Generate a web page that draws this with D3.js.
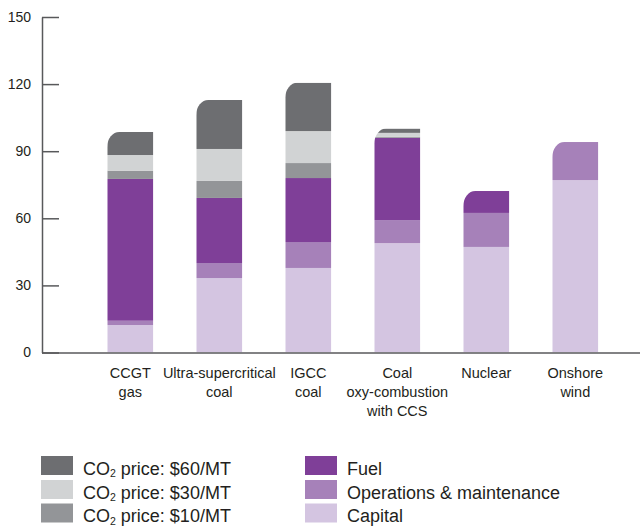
<!DOCTYPE html>
<html>
<head>
<meta charset="utf-8">
<script src="https://cdn.jsdelivr.net/npm/d3@7"></script>
<style>
  html, body { margin: 0; padding: 0; background: #fff; }
  svg { display: block; }
  .tick text { font-family: "Liberation Sans", Arial, Helvetica, sans-serif; font-size: 14px; fill: #231f20; }
  .cat, .leg { font-family: "Liberation Sans", Arial, Helvetica, sans-serif; fill: #231f20; }
</style>
</head>
<body>
<svg id="chart" width="640" height="526"></svg>
<script>
// Levelized cost components per technology (stacked bottom to top)
const categories = ["CCGT gas", "Ultra-supercritical coal", "IGCC coal", "Coal oxy-combustion with CCS", "Nuclear", "Onshore wind"];
const categoryLines = [["CCGT", "gas"], ["Ultra-supercritical", "coal"], ["IGCC", "coal"], ["Coal", "oxy-combustion", "with CCS"], ["Nuclear"], ["Onshore", "wind"]];

const capital = [12.3, 33.3, 37.8, 48.9, 47.2, 77.1];
const operations = [1.9, 6.7, 11.6, 10.3, 15.2, 17.0];
const fuel = [63.4, 29.1, 28.6, 36.8, 9.8, 0];
const co2at10 = [3.7, 7.6, 6.7, 0.4, 0, 0];
const co2at30 = [7.0, 14.3, 14.3, 1.8, 0, 0];
const co2at60 = [10.3, 21.9, 21.6, 1.9, 0, 0];

const yTicks = [0, 30, 60, 90, 120, 150];

const seriesKeys = ["capital", "om", "fuel", "co2_10", "co2_30", "co2_60"];
const seriesValues = [capital, operations, fuel, co2at10, co2at30, co2at60];
const seriesColors = ["#d4c5e1", "#a681b9", "#7f3f98", "#939598", "#d1d3d4", "#6d6e71"];

const rows = categories.map((c, i) => {
  const r = { category: c };
  seriesKeys.forEach((k, j) => { r[k] = seriesValues[j][i]; });
  return r;
});

const svg = d3.select("#chart");

const x = d3.scaleBand().domain(categories).range([85.8, 619.8]).paddingInner(0.483).paddingOuter(0.2415);
const y = d3.scaleLinear().domain([0, 150]).range([352.5, 17]);

const stacked = d3.stack().keys(seriesKeys)(rows);

// rounded top-left corner outline for each bar
const rx = 12, ry = 15;
const defs = svg.append("defs");
rows.forEach((r, i) => {
  const total = d3.sum(seriesKeys, k => r[k]);
  const x0 = x(r.category), x1 = x0 + x.bandwidth();
  const yt = y(total), yb = y(0);
  defs.append("clipPath").attr("id", "bar" + i)
    .append("path")
    .attr("d", `M${x0},${yb} L${x0},${yt + ry} A${rx},${ry} 0 0 1 ${x0 + rx},${yt} L${x1},${yt} L${x1},${yb} Z`);
});

const barsG = svg.append("g");
rows.forEach((r, i) => {
  const g = barsG.append("g").attr("clip-path", `url(#bar${i})`);
  stacked.forEach((s, j) => {
    const d = s[i];
    if (d[1] - d[0] <= 0) return;
    g.append("rect")
      .attr("x", x(r.category))
      .attr("width", x.bandwidth())
      .attr("y", y(d[1]))
      .attr("height", y(d[0]) - y(d[1]))
      .attr("fill", seriesColors[j]);
  });
});

// y axis with inward ticks
const yAxis = d3.axisLeft(y).tickValues(yTicks).tickSizeInner(-17).tickSizeOuter(0).tickPadding(11);
const ag = svg.append("g").attr("transform", "translate(42,0)").call(yAxis);
ag.attr("font-family", null).attr("font-size", null);
ag.selectAll("path, line").attr("stroke", "#58595b").attr("stroke-width", 1.5);

// baseline
svg.append("line")
  .attr("x1", 42).attr("x2", 640)
  .attr("y1", y(0) + 0.5).attr("y2", y(0) + 0.5)
  .attr("stroke", "#58595b").attr("stroke-width", 1.5);

// category labels
rows.forEach((r, i) => {
  const cx = x(r.category) + x.bandwidth() / 2;
  const t = svg.append("text").attr("class", "cat")
    .attr("text-anchor", "middle")
    .attr("font-size", 14.5)
    .attr("x", cx)
    .attr("y", 378);
  categoryLines[i].forEach((line, k) => {
    t.append("tspan").attr("x", cx).attr("dy", k === 0 ? 0 : 19).text(line);
  });
});

// legend
const legendItems = [
  { label: ["CO", "2", " price: $60/MT"], color: seriesColors[5], col: 0, row: 0 },
  { label: ["CO", "2", " price: $30/MT"], color: seriesColors[4], col: 0, row: 1 },
  { label: ["CO", "2", " price: $10/MT"], color: seriesColors[3], col: 0, row: 2 },
  { label: ["Fuel"], color: seriesColors[2], col: 1, row: 0 },
  { label: ["Operations & maintenance"], color: seriesColors[1], col: 1, row: 1 },
  { label: ["Capital"], color: seriesColors[0], col: 1, row: 2 }
];
const colX = [41, 305];
const rowY = [456, 480, 503.5];
legendItems.forEach(it => {
  const lx = colX[it.col], ly = rowY[it.row];
  svg.append("rect").attr("x", lx).attr("y", ly).attr("width", 32).attr("height", 19).attr("fill", it.color);
  const t = svg.append("text").attr("class", "leg")
    .attr("x", lx + 42).attr("y", ly + 18.5)
    .attr("font-size", 18);
  if (it.label.length === 3) {
    t.append("tspan").text(it.label[0]);
    t.append("tspan").attr("font-size", 10.5).attr("dy", 2.5).text(it.label[1]);
    t.append("tspan").attr("dy", -2.5).text(it.label[2]);
  } else {
    t.text(it.label[0]);
  }
});
</script>
</body>
</html>
